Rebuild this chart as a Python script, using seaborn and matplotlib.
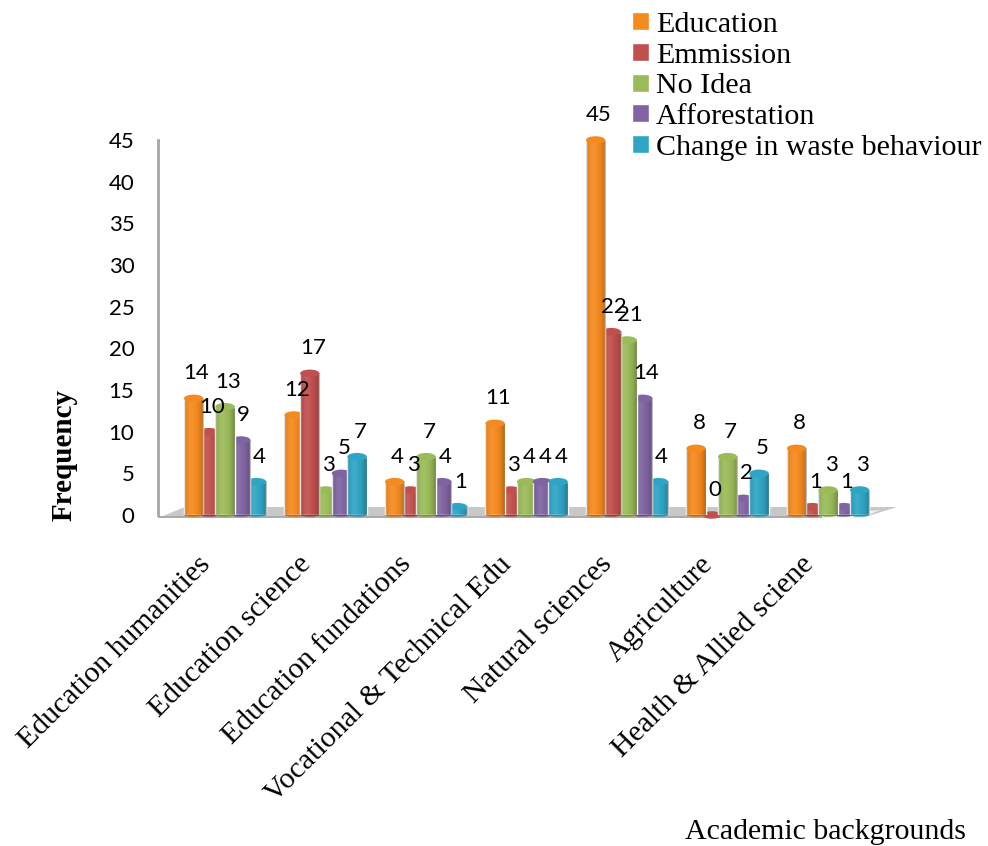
import numpy as np
import pandas as pd
import seaborn as sns
import matplotlib
matplotlib.use("Agg")
import matplotlib.pyplot as plt
from matplotlib.patches import Ellipse, Polygon
from matplotlib.transforms import Affine2D, ScaledTranslation

backgrounds = ["Education humanities", "Education science", "Education fundations",
               "Vocational & Technical Edu", "Natural sciences", "Agriculture",
               "Health & Allied sciene"]
education = [14, 12, 4, 11, 45, 8, 8]
emmission = [10, 17, 3, 3, 22, 0, 1]
no_idea = [13, 3, 7, 4, 21, 7, 3]
afforestation = [9, 5, 4, 4, 14, 2, 1]
waste_change = [4, 7, 1, 4, 4, 5, 3]
series_names = ["Education", "Emmission", "No Idea", "Afforestation",
                "Change in waste behaviour"]
series_colors = ["#F58A1F", "#C0504D", "#9BBB59", "#8064A2", "#2FA5C5"]

W, H = 988, 846
sns.set_theme(style="white")
plt.rcParams["font.family"] = ["Liberation Serif", "DejaVu Serif"]

frame = pd.DataFrame({
    "background": backgrounds * 5,
    "answer": np.repeat(series_names, 7),
    "frequency": education + emmission + no_idea + afforestation + waste_change,
})

fig = plt.figure(figsize=(W / 100, H / 100), dpi=100, facecolor="white")
ax = fig.add_axes([158 / W, 1 - 515 / H, 722 / W, 375 / H])
ax.patch.set_alpha(0)

# Pixel-based transform for the chart floor, which sits outside the data scale
px = Affine2D().scale(1 / W, -1 / H).translate(0, 1) + fig.transFigure
fig.add_artist(Polygon([(158, 518), (185, 507), (897, 507), (862, 518)], closed=True,
                       transform=px, facecolor="#C8C8C8", edgecolor="none", zorder=-5))
fig.add_artist(Polygon([(158, 516), (862, 516), (862, 518.5), (158, 518.5)], closed=True,
                       transform=px, facecolor="#ABABAB", edgecolor="none", zorder=-4))
fig.add_artist(Polygon([(822, 515), (880, 510), (862, 518), (822, 518)], closed=True,
                       transform=px, facecolor="#F2F2F2", edgecolor="none", zorder=-3))

sns.barplot(data=frame, x="background", y="frequency", hue="answer",
            order=backgrounds, hue_order=series_names, palette=series_colors,
            width=0.784, gap=0, saturation=1, ax=ax, legend=True)

# Cylinder shading: darker rims with a soft highlight left of centre
t = np.linspace(0, 1, 48)
rim = np.clip(np.abs(t - 0.42) / 0.58, 0, 1) ** 2.6
glow = np.exp(-((t - 0.35) / 0.18) ** 2) * 0.08
shade = np.zeros((1, t.size, 4))
shade[0, :, :3] = (glow / (glow + 0.28 * rim + 1e-6))[:, None]
shade[0, :, 3] = 0.28 * rim + glow

for i, bars in enumerate(ax.containers):
    color = series_colors[i]
    for bar in bars:
        cx = bar.get_x() + bar.get_width() / 2
        value = bar.get_height()
        w = bar.get_width() * 1.22
        # Taller cylinders stand in front of their shorter neighbours
        base = 3 + value * 0.1 + i * 0.01
        bar.set_x(cx - w / 2)
        bar.set_width(w)
        bar.set_zorder(base)
        ax.add_patch(Ellipse((cx, 0), w, 0.4, facecolor=sns.set_hls_values(color, l=0.42),
                             edgecolor="none", zorder=base - 0.002, clip_on=False))
        if value > 0:
            ax.imshow(shade, extent=(cx - w / 2, cx + w / 2, 0, value), aspect="auto",
                      zorder=base + 0.002, interpolation="bilinear")
        ax.add_patch(Ellipse((cx, value), w, 0.9, facecolor=color,
                             edgecolor="none", zorder=base + 0.004, clip_on=False))
        ax.annotate(f"{value:.0f}", (cx, value), xytext=(3, 25), textcoords="offset pixels",
                    ha="center", va="center", fontsize=16, family="Lato",
                    color="black", zorder=20, annotation_clip=False)

ax.set_xlim(-0.667, 6.517)
ax.set_ylim(0, 45)

sns.despine(ax=ax, bottom=True)
ax.spines["left"].set_color("#A6A6A6")
ax.spines["left"].set_linewidth(2)
ax.set_yticks(np.arange(0, 46, 5))
ax.tick_params(axis="y", length=0, pad=17, labelsize=16, labelfontfamily="Lato", labelcolor="black")
ax.tick_params(axis="x", length=0, pad=26)
ax.set_xticks(range(len(backgrounds)), backgrounds, rotation=45, ha="right",
              rotation_mode="anchor", fontsize=21.5, color="black")
# Pull the slanted category names left so they end before their group
nudge = ScaledTranslation(-28 / 100, 0, fig.dpi_scale_trans)
for label in ax.get_xticklabels():
    label.set_transform(label.get_transform() + nudge)

ax.set_xlabel("Academic backgrounds", fontsize=21.5, color="black")
ax.xaxis.set_label_coords(0.925, -0.81)
ax.set_ylabel("Frequency", fontsize=21, fontweight="bold", color="black")
ax.yaxis.set_label_coords(-0.112, 0.16)

sns.move_legend(ax, "upper left", bbox_to_anchor=(632 / W, 1 - 12 / H),
                bbox_transform=fig.transFigure, frameon=False, title=None,
                fontsize=21.6, labelspacing=0.155, handlelength=0.55, handleheight=0.55,
                handletextpad=0.25, borderpad=0, borderaxespad=0, labelcolor="black")

fig.savefig("out.png", dpi=100)
